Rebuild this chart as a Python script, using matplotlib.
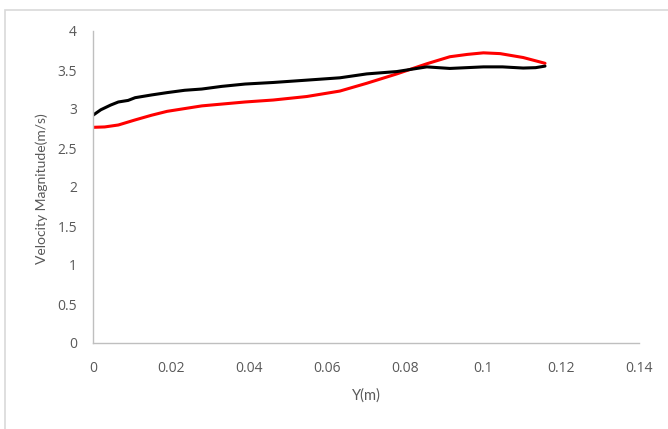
import matplotlib
matplotlib.use('agg')
import matplotlib.pyplot as plt
from matplotlib.patches import Rectangle

# values
y_black = [0.0, 0.002, 0.0045, 0.0065, 0.009, 0.0108, 0.015, 0.019, 0.0235, 0.0279, 0.033, 0.039,
           0.0462, 0.0548, 0.0633, 0.0702, 0.0779, 0.0856, 0.0915, 0.1001, 0.1050, 0.1103, 0.1135, 0.1159]
v_black = [2.92, 2.99, 3.05, 3.09, 3.11, 3.145, 3.18, 3.21, 3.24, 3.256, 3.29, 3.32,
           3.34, 3.37, 3.40, 3.45, 3.48, 3.54, 3.52, 3.54, 3.54, 3.525, 3.53, 3.55]

y_red = [0.0, 0.003, 0.0065, 0.0108, 0.015, 0.019, 0.0279, 0.039, 0.0462, 0.0548, 0.0633, 0.0702,
         0.0779, 0.0856, 0.0915, 0.0960, 0.1001, 0.1044, 0.1103, 0.1159]
v_red = [2.765, 2.77, 2.795, 2.86, 2.92, 2.97, 3.04, 3.09, 3.115, 3.16, 3.23, 3.33,
         3.45, 3.58, 3.67, 3.70, 3.72, 3.71, 3.66, 3.586]

xticks = [0, 0.02, 0.04, 0.06, 0.08, 0.1, 0.12, 0.14]
xticklabels = ['0', '0.02', '0.04', '0.06', '0.08', '0.1', '0.12', '0.14']
yticks = [0, 0.5, 1, 1.5, 2, 2.5, 3, 3.5, 4]
yticklabels = ['0', '0.5', '1', '1.5', '2', '2.5', '3', '3.5', '4']

grey = '#595959'
plt.rcParams['font.family'] = ['Open Sans', 'DejaVu Sans']

fig = plt.figure(figsize=(6.68, 4.29), dpi=100)
ax = fig.add_axes([93/668, 1-343/429, (639-93)/668, (343-31)/429])

# chart border like Excel's chart area
fig.patches.append(Rectangle((5/668, -0.1), 1.2, 1-10/429+0.1, transform=fig.transFigure,
                             fill=False, edgecolor='#d9d9d9', linewidth=1.2))

ax.plot(y_red, v_red, color='#ff0000', linewidth=2.2, solid_capstyle='round')
ax.plot(y_black, v_black, color='black', linewidth=2.2, solid_capstyle='round')

ax.set_xlim(0, 0.14)
ax.set_ylim(0, 4)
ax.set_xticks(xticks)
ax.set_xticklabels(xticklabels)
ax.set_yticks(yticks)
ax.set_yticklabels(yticklabels)
ax.tick_params(length=0, colors=grey, labelsize=10)
ax.tick_params(axis='x', pad=13)
ax.tick_params(axis='y', pad=11.5)
for s in ['top', 'right']:
    ax.spines[s].set_visible(False)
for s in ['left', 'bottom']:
    ax.spines[s].set_color('#bfbfbf')
    ax.spines[s].set_linewidth(1)

ax.set_xlabel('Y(m)', color=grey, fontsize=10.5, labelpad=9, family=['Lato', 'DejaVu Sans'])
fig.text(42/668, 1-189/429, 'Velocity Magnitude(m/s)', color=grey, fontsize=10,
         rotation=90, ha='center', va='center', family=['Lato', 'DejaVu Sans'])

plt.savefig('out.png', dpi=100)
plt.close()
